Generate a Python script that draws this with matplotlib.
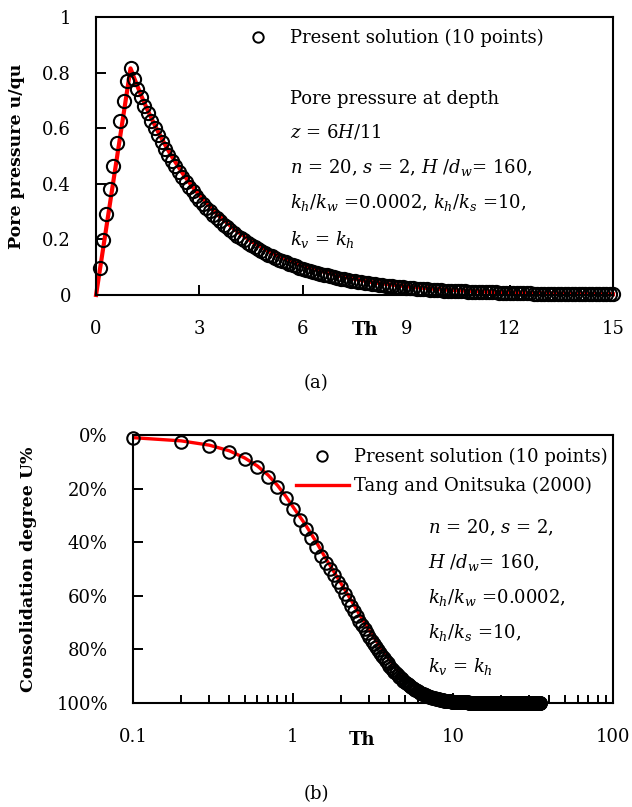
import matplotlib
matplotlib.use("Agg")
import matplotlib.pyplot as plt
import numpy as np
from matplotlib.lines import Line2D
from matplotlib.ticker import FixedLocator, LogLocator, NullFormatter

plt.rcParams["font.family"] = "DejaVu Serif"
plt.rcParams["mathtext.fontset"] = "dejavuserif"

# (a) pore pressure u/qu at z = 6H/11, present solution sampled every 0.1 of Th
th_a = np.round(np.arange(1, 151) * 0.1, 1)
u_a = [0.098, 0.198, 0.292, 0.382, 0.465, 0.546, 0.626, 0.698, 0.771, 0.818,
       0.775, 0.742, 0.711, 0.681, 0.653, 0.625, 0.599, 0.574, 0.549, 0.526,
       0.504, 0.483, 0.463, 0.443, 0.425, 0.407, 0.390, 0.373, 0.357, 0.342,
       0.328, 0.314, 0.301, 0.288, 0.276, 0.265, 0.253, 0.243, 0.233, 0.223,
       0.213, 0.204, 0.196, 0.188, 0.180, 0.172, 0.165, 0.158, 0.151, 0.145,
       0.139, 0.133, 0.127, 0.122, 0.117, 0.112, 0.107, 0.103, 0.098, 0.094,
       0.090, 0.087, 0.083, 0.079, 0.076, 0.073, 0.070, 0.067, 0.064, 0.061,
       0.059, 0.056, 0.054, 0.052, 0.050, 0.047, 0.045, 0.044, 0.042, 0.040,
       0.038, 0.037, 0.035, 0.034, 0.032, 0.031, 0.030, 0.028, 0.027, 0.026,
       0.025, 0.024, 0.023, 0.022, 0.021, 0.020, 0.019, 0.018, 0.018, 0.017,
       0.016, 0.016, 0.015, 0.014, 0.014, 0.013, 0.013, 0.012, 0.012, 0.011,
       0.011, 0.010, 0.010, 0.009, 0.009, 0.009, 0.008, 0.008, 0.008, 0.007,
       0.007, 0.007, 0.006, 0.006, 0.006, 0.006, 0.005, 0.005, 0.005, 0.005,
       0.004, 0.004, 0.004, 0.004, 0.004, 0.004, 0.003, 0.003, 0.003, 0.003,
       0.003, 0.003, 0.003, 0.003, 0.002, 0.002, 0.002, 0.002, 0.002, 0.002]
# Tang and Onitsuka (2000) curve for (a)
th_a_ref = [0, 1.0, 1.1, 1.2, 1.3, 1.4, 1.5, 1.6, 1.8, 2.0, 2.2, 2.5, 2.8, 3.0, 3.5,
            4.0, 4.5, 5.0, 5.5, 6.0, 7.0, 8.0, 9.0, 10, 11, 12, 13, 14, 15]
u_a_ref = [0, 0.815, 0.782, 0.751, 0.720, 0.691, 0.664, 0.637, 0.587, 0.541, 0.498,
           0.440, 0.389, 0.359, 0.292, 0.238, 0.194, 0.158, 0.129, 0.105, 0.070,
           0.046, 0.031, 0.020, 0.0135, 0.009, 0.006, 0.004, 0.0026]

# (b) consolidation degree U (%), present solution sampled every 0.1 of Th
th_b = np.round(np.arange(1, 351) * 0.1, 1)
U_b = [1.2, 2.5, 4.0, 6.2, 9.0, 12.0, 15.5, 19.3, 23.5, 27.6,
       31.6, 35.2, 38.5, 41.7, 45.0, 47.6, 50.1, 52.4, 54.7, 56.8,
       59.3, 61.6, 63.7, 65.8, 67.7, 69.4, 71.0, 72.5, 74.0, 75.3,
       76.7, 78.0, 79.2, 80.3, 81.4, 82.4, 83.4, 84.3, 85.2, 86.1,
       86.8, 87.6, 88.3, 88.9, 89.6, 90.2, 90.7, 91.2, 91.7, 92.2,
       92.6, 93.0, 93.4, 93.8, 94.1, 94.5, 94.8, 95.1, 95.3, 95.6,
       95.8, 96.1, 96.3, 96.5, 96.7, 96.8, 97.0, 97.2, 97.3, 97.5,
       97.6, 97.7, 97.9, 98.0, 98.1, 98.2, 98.3, 98.4, 98.5, 98.6,
       98.6, 98.7, 98.8, 98.9, 98.9, 99.0, 99.0, 99.1, 99.1, 99.2,
       99.2, 99.3, 99.3, 99.3, 99.4, 99.4, 99.4, 99.5, 99.5, 99.5,
       99.6, 99.6, 99.6, 99.6, 99.6, 99.7, 99.7, 99.7, 99.7, 99.7,
       99.7, 99.7, 99.8, 99.8, 99.8, 99.8, 99.8, 99.8, 99.8, 99.8,
       99.8, 99.8, 99.8, 99.8, 99.9, 99.9, 99.9, 99.9, 99.9, 99.9,
       99.9, 99.9, 99.9, 99.9, 99.9, 99.9, 99.9, 99.9, 99.9, 99.9,
       99.9, 99.9, 99.9, 99.9, 99.9, 99.9, 99.9, 99.9, 99.9, 100,
       100, 100, 100, 100, 100, 100, 100, 100, 100, 100,
       100, 100, 100, 100, 100, 100, 100, 100, 100, 100,
       100, 100, 100, 100, 100, 100, 100, 100, 100, 100,
       100, 100, 100, 100, 100, 100, 100, 100, 100, 100,
       100, 100, 100, 100, 100, 100, 100, 100, 100, 100,
       100, 100, 100, 100, 100, 100, 100, 100, 100, 100,
       100, 100, 100, 100, 100, 100, 100, 100, 100, 100,
       100, 100, 100, 100, 100, 100, 100, 100, 100, 100,
       100, 100, 100, 100, 100, 100, 100, 100, 100, 100,
       100, 100, 100, 100, 100, 100, 100, 100, 100, 100,
       100, 100, 100, 100, 100, 100, 100, 100, 100, 100,
       100, 100, 100, 100, 100, 100, 100, 100, 100, 100,
       100, 100, 100, 100, 100, 100, 100, 100, 100, 100,
       100, 100, 100, 100, 100, 100, 100, 100, 100, 100,
       100, 100, 100, 100, 100, 100, 100, 100, 100, 100,
       100, 100, 100, 100, 100, 100, 100, 100, 100, 100,
       100, 100, 100, 100, 100, 100, 100, 100, 100, 100,
       100, 100, 100, 100, 100, 100, 100, 100, 100, 100,
       100, 100, 100, 100, 100, 100, 100, 100, 100, 100,
       100, 100, 100, 100, 100, 100, 100, 100, 100, 100]
th_b_ref = [0.1, 0.2, 0.3, 0.4, 0.5, 0.6, 0.7, 0.8, 0.9, 1.0, 1.2, 1.4, 1.6, 1.8, 2.0,
            2.3, 2.6, 3.0, 3.5, 4.0, 4.5, 5.0, 5.5, 6.0, 7.0, 8.0, 9.0, 10, 12, 15, 20, 35]
U_b_ref = [1.0, 2.2, 3.8, 5.9, 8.6, 11.6, 15.0, 18.8, 22.8, 26.8, 33.6, 40.0, 46.0,
           51.0, 55.5, 61.5, 67.0, 73.0, 79.0, 83.8, 87.5, 90.5, 92.8, 94.5, 96.8,
           98.2, 99.0, 99.4, 99.8, 100, 100, 100]

a_ticks = [0, 3, 6, 9, 12, 15]
a_yticks = [0, 0.2, 0.4, 0.6, 0.8, 1]
a_ylabels = ["0", "0.2", "0.4", "0.6", "0.8", "1"]
b_yticks = [0, 20, 40, 60, 80, 100]
b_ylabels = ["0%", "20%", "40%", "60%", "80%", "100%"]
b_xticks = [0.1, 1, 10, 100]
b_xlabels = ["0.1", "1", "10", "100"]

LEG_PRESENT = "Present solution (10 points)"
LEG_TANG = "Tang and Onitsuka (2000)"
FS = 13


def style(ax):
    for s in ax.spines.values():
        s.set_linewidth(1.5)
    ax.tick_params(which="both", direction="in", width=1.4, pad=18, labelsize=FS,
                   top=False, right=False)
    ax.tick_params(which="major", length=7)
    ax.tick_params(which="minor", length=6)


fig = plt.figure(figsize=(6.32, 8.07), dpi=100)

# ---- (a)
ax1 = fig.add_axes([0.152, 0.6345, 0.818, 0.3445])
ax1.plot(th_a_ref, u_a_ref, color="red", lw=3, clip_on=False, zorder=2)
ax1.plot(th_a, u_a, "o", mfc="none", mec="black", ms=9.5, mew=1.5, zorder=3, clip_on=False)
ax1.set_xlim(0, 15); ax1.set_ylim(0, 1)
ax1.set_xticks(a_ticks); ax1.set_xticklabels([str(t) for t in a_ticks])
ax1.set_yticks(a_yticks); ax1.set_yticklabels(a_ylabels)
style(ax1)
ax1.set_ylabel("Pore pressure u/qu", fontweight="bold", fontsize=12.5, va="center")
ax1.yaxis.set_label_coords(-0.153, 0.5)
ax1.text(0.520, -0.126, "Th", transform=ax1.transAxes, ha="center", va="center",
         fontweight="bold", fontsize=FS)
h = Line2D([], [], ls="none", marker="o", mfc="none", mec="black", ms=7.5, mew=1.4)
ax1.legend([h], [LEG_PRESENT], loc="center left", bbox_to_anchor=(0.263, 0.924),
           frameon=False, fontsize=FS, handlelength=2.9, handletextpad=0.3,
           borderpad=0, borderaxespad=0)
notes_a = ["Pore pressure at depth", r"$z$ = 6$H$/11",
           r"$n$ = 20, $s$ = 2, $H$ /$d_w$= 160,",
           r"$k_h$/$k_w$ =0.0002, $k_h$/$k_s$ =10,", r"$k_v$ = $k_h$"]
for txt, y in zip(notes_a, [0.687, 0.565, 0.439, 0.313, 0.180]):
    ax1.text(0.375, y, txt, transform=ax1.transAxes, va="baseline", fontsize=FS)

# ---- (b)
ax2 = fig.add_axes([0.2104, 0.1289, 0.7596, 0.3321])
ax2.plot(th_b_ref, U_b_ref, color="red", lw=2.4, zorder=2, label=LEG_TANG)
ax2.plot(th_b, U_b, "o", mfc="none", mec="black", ms=9, mew=1.5, zorder=3, clip_on=False)
ax2.set_xscale("log")
ax2.set_xlim(0.1, 100); ax2.set_ylim(100, 0)
ax2.xaxis.set_major_locator(FixedLocator(b_xticks)); ax2.set_xticklabels(b_xlabels)
ax2.xaxis.set_minor_locator(LogLocator(base=10, subs=np.arange(2, 10)))
ax2.xaxis.set_minor_formatter(NullFormatter())
ax2.set_yticks(b_yticks); ax2.set_yticklabels(b_ylabels)
style(ax2)
ax2.set_ylabel("Consolidation degree U%", fontweight="bold", fontsize=12.5, va="center")
ax2.yaxis.set_label_coords(-0.217, 0.5)
ax2.text(0.477, -0.138, "Th", transform=ax2.transAxes, ha="center", va="center",
         fontweight="bold", fontsize=FS)
hr = Line2D([], [], color="red", lw=2.4)
ax2.legend([h, hr], [LEG_PRESENT, LEG_TANG], loc="center left",
           bbox_to_anchor=(0.340, 0.864), frameon=False, fontsize=FS, handlelength=2.9,
           handletextpad=0.3, borderpad=0, borderaxespad=0, labelspacing=0.6)
notes_b = [r"$n$ = 20, $s$ = 2,", r"$H$ /$d_w$= 160,", r"$k_h$/$k_w$ =0.0002,",
           r"$k_h$/$k_s$ =10,", r"$k_v$ = $k_h$"]
for txt, y in zip(notes_b, [0.634, 0.504, 0.373, 0.243, 0.116]):
    ax2.text(0.615, y, txt, transform=ax2.transAxes, va="baseline", fontsize=FS)

fig.text(0.5, 1 - 383 / 807, "(a)", ha="center", va="center", fontsize=FS)
fig.text(0.5, 1 - 794 / 807, "(b)", ha="center", va="center", fontsize=FS)

fig.savefig("out.png", dpi=100)
